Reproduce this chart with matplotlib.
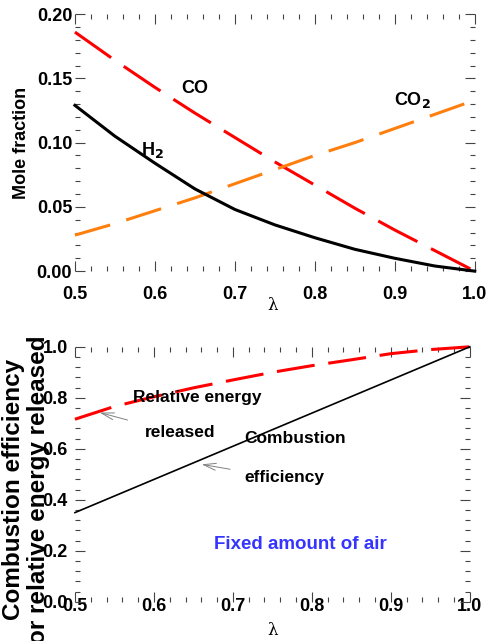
import matplotlib
matplotlib.use("Agg")
import matplotlib.pyplot as plt
from matplotlib.ticker import MultipleLocator

plt.rcParams['font.family'] = ['Liberation Sans', 'DejaVu Sans']
plt.rcParams['font.weight'] = 'bold'

# DATA #
lam = [0.5, 0.55, 0.6, 0.65, 0.7, 0.75, 0.8, 0.85, 0.9, 0.95, 1.0]
co = [0.186, 0.164, 0.143, 0.123, 0.104, 0.085, 0.067, 0.049, 0.032, 0.016, 0.0]
co2 = [0.028, 0.037, 0.047, 0.057, 0.068, 0.079, 0.090, 0.100, 0.111, 0.122, 0.133]
h2 = [0.129, 0.105, 0.084, 0.064, 0.048, 0.036, 0.026, 0.017, 0.010, 0.004, 0.0]

rel_energy = [0.716, 0.766, 0.804, 0.839, 0.870, 0.900, 0.926, 0.949, 0.973, 0.989, 1.0]
comb_eff = [0.35, 0.415, 0.48, 0.545, 0.61, 0.675, 0.74, 0.805, 0.87, 0.935, 1.0]

x_ticks = [0.5, 0.6, 0.7, 0.8, 0.9, 1.0]
x_ticklabels = ['0.5', '0.6', '0.7', '0.8', '0.9', '1.0']
y_ticks_top = [0.0, 0.05, 0.10, 0.15, 0.20]
y_ticklabels_top = ['0.00', '0.05', '0.10', '0.15', '0.20']
y_ticks_bot = [0.0, 0.2, 0.4, 0.6, 0.8, 1.0]
y_ticklabels_bot = ['0.0', '0.2', '0.4', '0.6', '0.8', '1.0']

RED = '#ff0000'
ORANGE = '#ff7f0e'
BLUE = '#3535ff'
TICKCOL = '#444444'


def style_ax(ax, xminor, yminor, xpad, ypad):
    for s in ax.spines.values():
        s.set_visible(False)
    ax.xaxis.set_minor_locator(MultipleLocator(xminor))
    ax.yaxis.set_minor_locator(MultipleLocator(yminor))
    ax.tick_params(which='both', direction='in', top=True, right=True, color=TICKCOL, width=0.8, labelsize=13)
    ax.tick_params(which='major', length=7)
    ax.tick_params(which='minor', length=3.5)
    ax.tick_params(axis='x', pad=xpad)
    ax.tick_params(axis='y', pad=ypad)


fig = plt.figure(figsize=(4.93, 6.41), dpi=100)

# TOP PANEL: mole fractions #
ax1 = fig.add_axes([0.152, 0.577, 0.811, 0.401])
ax1.plot(lam, co, color=RED, lw=2.2, dashes=(14.5, 5), clip_on=False)
ax1.plot(lam, co2, color=ORANGE, lw=2.2, dashes=(12, 5.5), clip_on=False)
ax1.plot(lam, h2, color='black', lw=2.2, clip_on=False)
ax1.set_xlim(0.5, 1.0)
ax1.set_ylim(0.0, 0.20)
ax1.set_xticks(x_ticks, x_ticklabels)
ax1.set_yticks(y_ticks_top, y_ticklabels_top)
style_ax(ax1, 0.02, 0.01, 11, 2)
ax1.set_ylabel('Mole fraction', fontsize=13, fontweight='bold', labelpad=5)
ax1.text(0.65, 0.142, 'CO', fontsize=13, ha='center', va='center')
ax1.text(0.597, 0.094, 'H$_\\mathbf{2}$', fontsize=13, ha='center', va='center')
ax1.text(0.9225, 0.133, 'CO$_\\mathbf{2}$', fontsize=13, ha='center', va='center')
fig.text(0.552, 0.523, 'λ', fontsize=12, family='DejaVu Serif', fontweight='normal', ha='center', va='center')

# BOTTOM PANEL: efficiencies #
ax2 = fig.add_axes([0.152, 0.061, 0.801, 0.398])
ax2.plot(lam, rel_energy, color=RED, lw=2.2, dashes=(12.5, 4.5), clip_on=False)
ax2.plot(lam, comb_eff, color='black', lw=1.2, clip_on=False)
ax2.set_xlim(0.5, 1.0)
ax2.set_ylim(0.0, 1.0)
ax2.set_xticks(x_ticks, x_ticklabels)
ax2.set_yticks(y_ticks_bot, y_ticklabels_bot)
style_ax(ax2, 0.02, 0.04, -2.5, 5)

ax2.text(0.573, 0.80, 'Relative energy', fontsize=12.5, ha='left', va='center')
ax2.text(0.589, 0.663, 'released', fontsize=12.5, ha='left', va='center')
ax2.text(0.715, 0.639, 'Combustion', fontsize=12.5, ha='left', va='center')
ax2.text(0.715, 0.486, 'efficiency', fontsize=12.5, ha='left', va='center')
ax2.annotate('', xy=(0.528, 0.745), xytext=(0.570, 0.71),
             arrowprops=dict(arrowstyle='->,head_length=0.9,head_width=0.25', color='gray', lw=0.7))
ax2.annotate('', xy=(0.657, 0.541), xytext=(0.700, 0.518),
             arrowprops=dict(arrowstyle='->,head_length=0.9,head_width=0.25', color='gray', lw=0.7))
ax2.text(0.785, 0.224, 'Fixed amount of air', fontsize=13.5, color=BLUE, ha='center', va='center')

fig.text(0.053, 0.236, 'Combustion efficiency\nor relative energy released', fontsize=17.5,
         rotation=90, ha='center', va='center', multialignment='center', linespacing=1.1)
fig.text(0.552, 0.017, 'λ', fontsize=12, family='DejaVu Serif', fontweight='normal', ha='center', va='center')

fig.savefig('out.png', dpi=100)
